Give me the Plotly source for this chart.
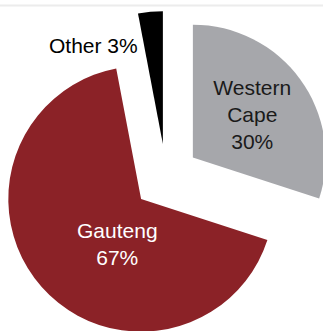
import plotly.graph_objects as go

# Share by province
labels = ["Western Cape", "Gauteng", "Other"]
values = [30, 67, 3]
colors = ["#a6a7ab", "#8b2227", "#000000"]
text_colors = ["#1a1a1a", "#ffffff", "#000000"]
text_positions = ["inside", "none", "none"]

FONT = "Liberation Sans, Arial, sans-serif"

fig = go.Figure(
    go.Pie(
        labels=labels,
        values=values,
        text=[lab.replace(" ", "<br>") for lab in labels],
        texttemplate="%{text}<br>%{percent:.0%}",
        textposition=text_positions,
        insidetextorientation="horizontal",
        insidetextfont=dict(family=FONT, size=21, color=text_colors),
        marker=dict(colors=colors, line=dict(width=0)),
        pull=[0.25, 0.25, 0.25],
        sort=False,
        direction="clockwise",
        rotation=0,
        showlegend=False,
        hoverinfo="label+percent",
    )
)

total = sum(values)


def pct(v):
    return f"{round(100 * v / total)}%"


# Label inside the large slice
fig.add_annotation(
    x=117, y=243.5, xref="x", yref="y",
    text=f"{labels[1]}<br>{pct(values[1])}",
    showarrow=False,
    font=dict(family=FONT, size=21, color=text_colors[1]),
    xanchor="center", yanchor="middle",
)

# Label for the small slice, placed beside it
fig.add_annotation(
    x=93, y=45, xref="x", yref="y",
    text=f"{labels[2]} {pct(values[2])}",
    showarrow=False,
    font=dict(family=FONT, size=21, color=text_colors[2]),
    xanchor="center", yanchor="middle",
)

# Thin rule along the top edge
fig.add_shape(
    type="line", xref="x", yref="y",
    x0=0, x1=332, y0=5.5, y1=5.5,
    line=dict(color="#ececec", width=2),
)

fig.update_xaxes(range=[0, 332], visible=False, fixedrange=True)
fig.update_yaxes(range=[354, 0], visible=False, fixedrange=True)

fig.update_layout(
    width=332,
    height=354,
    margin=dict(l=0, r=0, t=0, b=0),
    paper_bgcolor="#ffffff",
    plot_bgcolor="#ffffff",
    font=dict(family=FONT),
)

fig.write_html("out.html")
